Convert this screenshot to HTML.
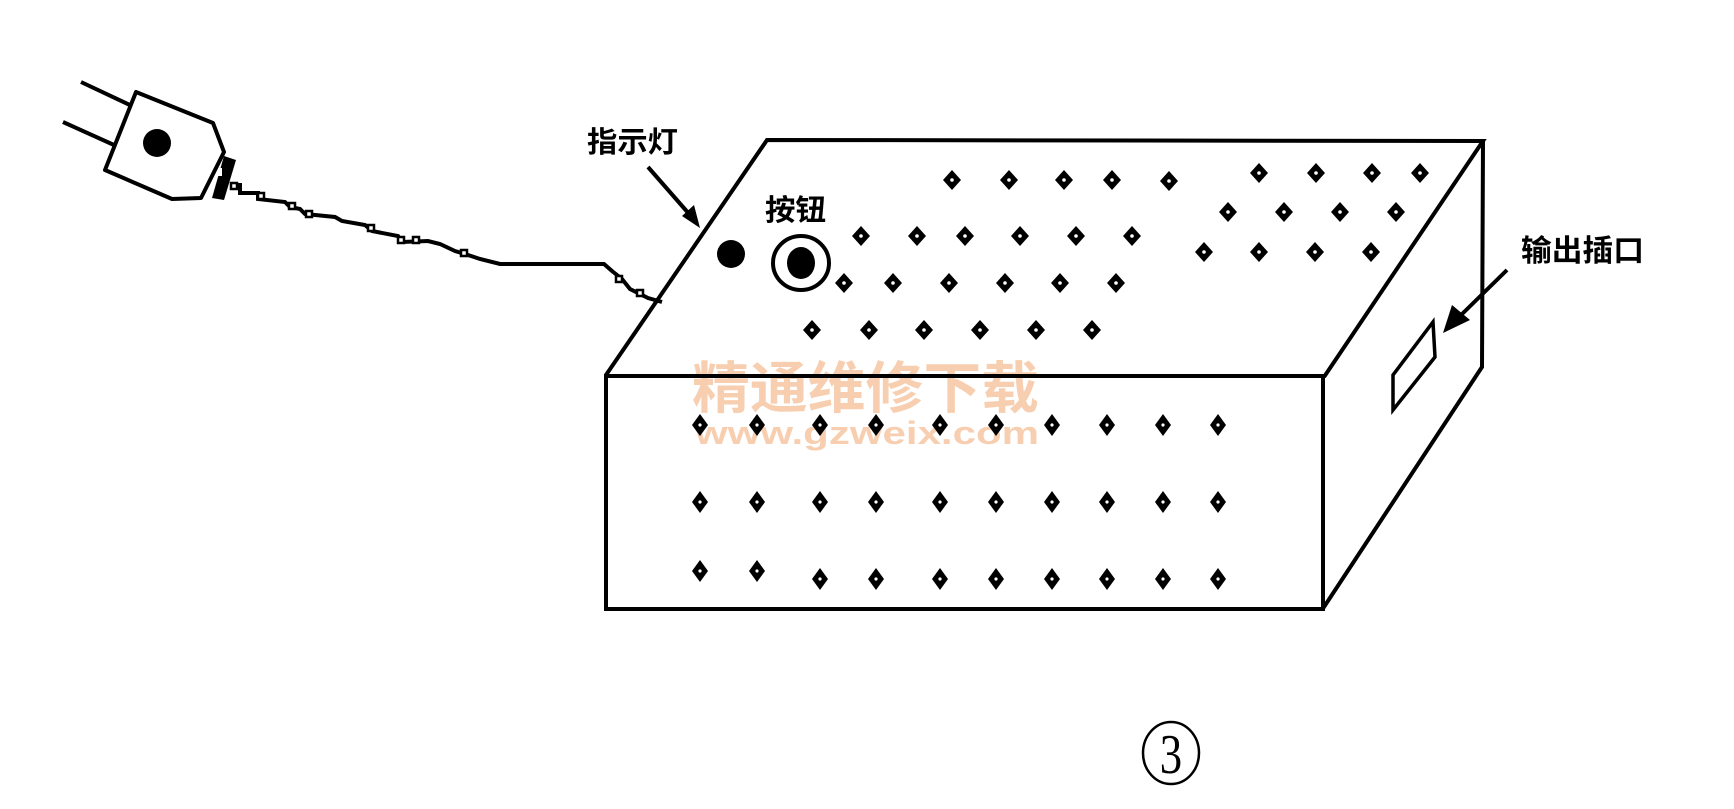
<!DOCTYPE html>
<html><head><meta charset="utf-8"><style>
html,body{margin:0;padding:0;background:#fff;}
svg{display:block;}
</style></head><body>
<svg width="1734" height="809" viewBox="0 0 1734 809" xmlns="http://www.w3.org/2000/svg">
<defs>
<g id="d"><polygon points="0,-10 9,0 0,10 -9,0" fill="#000"/><circle cx="0" cy="0" r="1.8" fill="#fff"/></g>
<g id="f"><polygon points="0,-11 8,0 0,11 -8,0" fill="#000"/><circle cx="0" cy="0" r="1.6" fill="#fff"/></g>
</defs>
<!-- watermark -->
<text x="692" y="408" font-family="'Liberation Sans','Noto Sans CJK SC',sans-serif" font-size="56" font-weight="bold" fill="#f7cfb0" textLength="347" lengthAdjust="spacingAndGlyphs">精通维修下载</text>
<text x="695" y="444" font-family="'Liberation Sans',sans-serif" font-size="32" font-weight="bold" fill="#f7cfb0" textLength="344" lengthAdjust="spacingAndGlyphs">www.gzweix.com</text>
<g fill="none" stroke="#000" stroke-width="4" stroke-linejoin="miter">
<polyline points="606,375 767,140 1483,141 1324,377"/>
<rect x="606" y="376" width="717" height="233"/>
<polyline points="1483,141 1482,367 1322,610"/>
<polygon points="1433,322 1435,357 1393,410 1393,375" stroke-width="3.5"/>
</g>
<g stroke="#000" stroke-width="4">
<line x1="648" y1="167" x2="690" y2="215"/>
<line x1="1507" y1="270" x2="1458" y2="318"/>
</g>
<polygon points="700,228 682,216 694,205" fill="#000"/>
<polygon points="1443,333 1452,305 1470,320" fill="#000"/>
<circle cx="731" cy="254" r="14" fill="#000"/>
<ellipse cx="801" cy="263" rx="28" ry="27" fill="none" stroke="#000" stroke-width="4"/>
<ellipse cx="801" cy="263" rx="14" ry="16" fill="#000"/>
<g font-family="'Liberation Sans','Noto Sans CJK SC',sans-serif" font-weight="bold" fill="#000">
<text x="587" y="152" font-size="29" textLength="91" lengthAdjust="spacingAndGlyphs">指示灯</text>
<text x="765" y="220" font-size="29" textLength="61" lengthAdjust="spacingAndGlyphs">按钮</text>
<text x="1521" y="261" font-size="30" textLength="123" lengthAdjust="spacingAndGlyphs">输出插口</text>
</g>
<ellipse cx="1171" cy="753" rx="28" ry="31" fill="none" stroke="#000" stroke-width="2.5"/>
<text x="1171" y="773" text-anchor="middle" font-family="'Liberation Serif',serif" font-size="56" fill="#000" transform="translate(1171 0) scale(0.8 1) translate(-1171 0)">3</text>
<g>
<use href="#d" x="952" y="180"/><use href="#d" x="1009" y="180"/><use href="#d" x="1064" y="180"/><use href="#d" x="1112" y="180"/><use href="#d" x="1169" y="181"/>
<use href="#d" x="1259" y="173"/><use href="#d" x="1316" y="173"/><use href="#d" x="1372" y="173"/><use href="#d" x="1420" y="173"/>
<use href="#d" x="1228" y="212"/><use href="#d" x="1284" y="212"/><use href="#d" x="1340" y="212"/><use href="#d" x="1396" y="212"/>
<use href="#d" x="1204" y="252"/><use href="#d" x="1259" y="252"/><use href="#d" x="1315" y="252"/><use href="#d" x="1371" y="252"/>
<use href="#d" x="861" y="236"/><use href="#d" x="917" y="236"/><use href="#d" x="965" y="236"/><use href="#d" x="1020" y="236"/><use href="#d" x="1076" y="236"/><use href="#d" x="1132" y="236"/>
<use href="#d" x="844" y="283"/><use href="#d" x="893" y="283"/><use href="#d" x="949" y="283"/><use href="#d" x="1005" y="283"/><use href="#d" x="1060" y="283"/><use href="#d" x="1116" y="283"/>
<use href="#d" x="812" y="330"/><use href="#d" x="869" y="330"/><use href="#d" x="924" y="330"/><use href="#d" x="980" y="330"/><use href="#d" x="1036" y="330"/><use href="#d" x="1092" y="330"/>
</g>
<g>
<use href="#f" x="700" y="425"/><use href="#f" x="757" y="425"/><use href="#f" x="820" y="425"/><use href="#f" x="876" y="425"/><use href="#f" x="940" y="425"/><use href="#f" x="996" y="425"/><use href="#f" x="1052" y="425"/><use href="#f" x="1107" y="425"/><use href="#f" x="1163" y="425"/><use href="#f" x="1218" y="425"/>
<use href="#f" x="700" y="502"/><use href="#f" x="757" y="502"/><use href="#f" x="820" y="502"/><use href="#f" x="876" y="502"/><use href="#f" x="940" y="502"/><use href="#f" x="996" y="502"/><use href="#f" x="1052" y="502"/><use href="#f" x="1107" y="502"/><use href="#f" x="1163" y="502"/><use href="#f" x="1218" y="502"/>
<use href="#f" x="700" y="571"/><use href="#f" x="757" y="571"/><use href="#f" x="820" y="579"/><use href="#f" x="876" y="579"/><use href="#f" x="940" y="579"/><use href="#f" x="996" y="579"/><use href="#f" x="1052" y="579"/><use href="#f" x="1107" y="579"/><use href="#f" x="1163" y="579"/><use href="#f" x="1218" y="579"/>
</g>
<g stroke="#000" stroke-width="4" fill="none" stroke-linejoin="round">
<line x1="81" y1="82" x2="132" y2="106"/>
<line x1="63" y1="122" x2="114" y2="145"/>
<polygon points="136,92 213,123 224,152 201,198 172,199 105,170" fill="#fff"/>
</g>
<circle cx="157" cy="143" r="14" fill="#000"/>
<polygon points="224,156 236,160 224,200 212,198" fill="#000"/>
<rect x="218" y="168" width="4" height="8" fill="#fff"/>
<g fill="none" stroke="#000" stroke-width="4" stroke-linejoin="miter">
<polyline points="230,185 240,185 240,193 258,193 258,199 285,202 290,207 300,209 305,214 335,217 342,221 365,225 372,231 398,236 402,242 428,241 440,244 455,251 465,254 480,259 500,264 604,264 612,271 622,279 630,289 648,298 662,302"/>
</g>
<g fill="#fff" stroke="#000" stroke-width="2.5">
<rect x="231" y="183" width="6" height="6"/><rect x="258" y="193" width="6" height="6"/><rect x="289" y="203" width="6" height="6"/><rect x="306" y="211" width="6" height="6"/>
<rect x="368" y="225" width="6" height="6"/><rect x="398" y="237" width="6" height="6"/><rect x="413" y="237" width="6" height="6"/><rect x="461" y="250" width="6" height="6"/>
<rect x="616" y="276" width="6" height="6"/><rect x="637" y="290" width="6" height="6"/>
</g>
</svg>
</body></html>
